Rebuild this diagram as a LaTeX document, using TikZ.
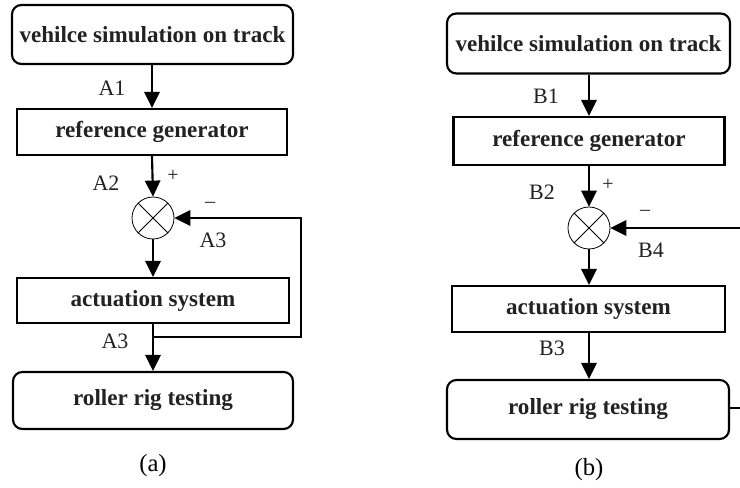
\documentclass[tikz,border=0pt]{standalone}
\usepackage{fontspec}
\setmainfont{Liberation Serif}
\usetikzlibrary{arrows.meta}
\definecolor{ink}{HTML}{222222}
\tikzset{
  px/.style={x=0.75pt,y=-0.75pt},
  blk/.style={draw=black,line width=1.6pt,text=ink,font=\bfseries\fontsize{17.3}{19}\selectfont,inner sep=0pt},
  roundbox/.style={blk,rounded corners=7pt},
  sqbox/.style={blk},
  summer/.style={draw=black,line width=0.6pt,circle,minimum size=31.5pt,inner sep=0pt},
  flow/.style={line width=1.6pt,-{Triangle[length=12pt,width=11.5pt]}},
  wire/.style={line width=1.6pt},
  lbl/.style={text=ink,font=\fontsize{16.5}{18}\selectfont,inner sep=0pt},
  sgn/.style={text=ink,font=\fontsize{15}{16}\selectfont,inner sep=0pt},
  subcap/.style={text=black,font=\fontsize{18.5}{20}\selectfont,inner sep=0pt}
}
\begin{document}
\begin{tikzpicture}[px]
\useasboundingbox (0,0) rectangle (740,488);
\fill[white] (0,0) rectangle (740,488);

% ---------------- (a) ----------------
\node[roundbox,minimum width=210.75pt,minimum height=44.25pt] (simA) at (152.5,34.5) {vehilce simulation on track};
\node[sqbox,minimum width=202.5pt,minimum height=34.5pt] (refA) at (152,132) {reference generator};
\node[summer] (sumA) at (153,218) {};
\draw[line width=0.6pt] (sumA.north east) -- (sumA.south west) (sumA.north west) -- (sumA.south east);
\node[sqbox,minimum width=204pt,minimum height=33.75pt] (actA) at (153,300.5) {actuation system};
\node[roundbox,minimum width=210pt,minimum height=42.75pt] (rollA) at (153,400.5) {roller rig testing};

\coordinate (brA) at (153,337);
\coordinate (cornA) at (301,337);

\draw[flow] (simA.south -| refA.north) -- (refA.north);
\draw[flow] (refA.south) -- (sumA.north);
\draw[flow] (sumA.south) -- (actA.north);
\draw[flow] (actA.south) -- (rollA.north);
\draw[flow] (brA) -- (cornA) |- (sumA.east);

\node[lbl] (a1) at (112,88) {A1};
\node[lbl] (a2) at (106,183) {A2};
\node[sgn] (pA) at (173,176) {+};
\node[sgn] (mA) at (210,205) {--};
\node[lbl] (a3u) at (213,240) {A3};
\node[lbl] (a3d) at (115,341) {A3};
\node[subcap] (capA) at (153,466) {(a)};

% ---------------- (b) ----------------
\node[roundbox,minimum width=212.25pt,minimum height=45pt] (simB) at (588.5,43.5) {vehilce simulation on track};
\node[sqbox,minimum width=203.25pt,minimum height=36pt] (refB) at (589,141) {reference generator};
\node[summer] (sumB) at (589,228) {};
\draw[line width=0.6pt] (sumB.north east) -- (sumB.south west) (sumB.north west) -- (sumB.south east);
\node[sqbox,minimum width=204.75pt,minimum height=34.5pt] (actB) at (588.5,309) {actuation system};
\node[roundbox,minimum width=211.5pt,minimum height=44.25pt] (rollB) at (588,409.5) {roller rig testing};

\coordinate (inB) at (740,228);
\coordinate (outB) at (740,408);

\draw[flow] (simB.south -| refB.north) -- (refB.north);
\draw[flow] (refB.south) -- (sumB.north);
\draw[flow] (sumB.south) -- (sumB.south |- actB.north);
\draw[flow] (actB.south -| sumB.south) -- (sumB.south |- rollB.north);
\draw[flow] (inB) -- (sumB.east);
\draw[wire,line width=1.2pt] (rollB.east |- outB) -- (outB);

\node[lbl] (b1) at (546,96) {B1};
\node[lbl] (b2) at (542,192) {B2};
\node[sgn] (pB) at (608,185) {+};
\node[sgn] (mB) at (645,213) {--};
\node[lbl] (b4) at (651,250) {B4};
\node[lbl] (b3) at (552,348) {B3};
\node[subcap] (capB) at (589,470) {(b)};
\end{tikzpicture}
\end{document}
